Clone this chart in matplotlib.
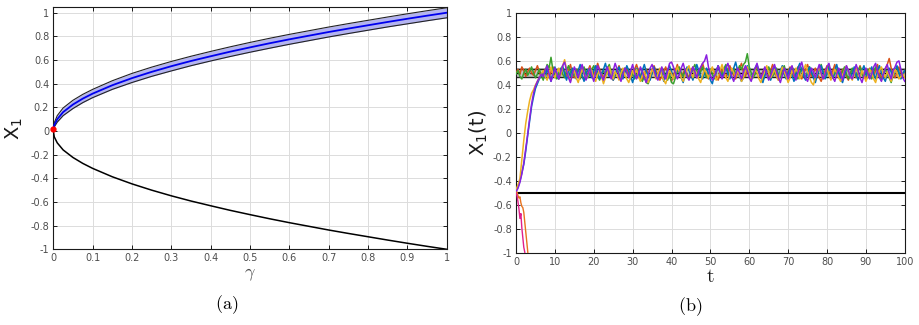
import numpy as np
import matplotlib
matplotlib.use("Agg")
import matplotlib.pyplot as plt

# ---------------- data: panel (a) ----------------
gamma = [0, 0.0025, 0.01, 0.025, 0.05, 0.075, 0.1, 0.15, 0.2, 0.25, 0.3, 0.35, 0.4,
         0.45, 0.5, 0.55, 0.6, 0.65, 0.7, 0.75, 0.8, 0.85, 0.9, 0.95, 1.0]
x1_center = [0.02, 0.05, 0.1, 0.16, 0.224, 0.274, 0.316, 0.387, 0.447, 0.5, 0.548, 0.592,
             0.632, 0.671, 0.707, 0.742, 0.775, 0.806, 0.837, 0.866, 0.894, 0.922, 0.949,
             0.975, 1.0]
x1_upper = [0.02, 0.07, 0.13, 0.195, 0.26, 0.31, 0.352, 0.425, 0.487, 0.54, 0.588, 0.632,
            0.673, 0.712, 0.749, 0.784, 0.817, 0.848, 0.879, 0.908, 0.936, 0.964, 0.991,
            1.017, 1.042]
x1_lower = [0.02, 0.035, 0.075, 0.13, 0.19, 0.24, 0.282, 0.352, 0.41, 0.462, 0.508, 0.552,
            0.592, 0.63, 0.666, 0.7, 0.733, 0.764, 0.795, 0.824, 0.852, 0.88, 0.906, 0.932,
            0.957]
x1_unstable = [0.0, -0.05, -0.1, -0.16, -0.224, -0.274, -0.316, -0.387, -0.447, -0.5, -0.548,
               -0.592, -0.632, -0.671, -0.707, -0.742, -0.775, -0.806, -0.837, -0.866,
               -0.894, -0.922, -0.949, -0.975, -1.0]
bif_point = (0.0, 0.02)

xticks_a = [0, 0.1, 0.2, 0.3, 0.4, 0.5, 0.6, 0.7, 0.8, 0.9, 1]
xticklabels_a = ["0", "0.1", "0.2", "0.3", "0.4", "0.5", "0.6", "0.7", "0.8", "0.9", "1"]
yticks = [-1, -0.8, -0.6, -0.4, -0.2, 0, 0.2, 0.4, 0.6, 0.8, 1]
yticklabels = ["-1", "-0.8", "-0.6", "-0.4", "-0.2", "0", "0.2", "0.4", "0.6", "0.8", "1"]

# ---------------- data: panel (b) ----------------
t_step = 0.5
stable_level = 0.5
stable_band = (0.465, 0.535)
stable_shade = (0.455, 0.545)
unstable_level = -0.5

traj_blue = [-.48,-.45,-.40,-.33,-.26,-.15,-.02,.10,.22,.30,.37,.41,.45,.48,
    .51,.46,.53,.49,.43,.50,.55,.48,.45,.52,
    .56,.49,.44,.51,.47,.54,.50,.45,.52,.57,
    .48,.43,.50,.53,.49,.46,.52,.56,.50,.45,
    .49,.53,.58,.51,.47,.50,.44,.48,.52,.55,
    .49,.45,.51,.56,.52,.47,.42,.48,.54,.50,
    .45,.52,.57,.51,.48,.44,.50,.55,.49,.46,
    .53,.50,.43,.48,.52,.56,.51,.45,.49,.54,
    .50,.46,.42,.49,.55,.52,.48,.44,.51,.57,
    .52,.47,.45,.50,.54,.49,.44,.41,.48,.52,
    .56,.50,.46,.51,.55,.49,.45,.50,.54,.59,
    .52,.47,.43,.46,.51,.56,.50,.45,.49,.54,
    .57,.51,.46,.42,.48,.52,.50,.44,.49,.55,
    .51,.46,.52,.56,.49,.45,.50,.54,.48,.43,
    .49,.54,.58,.52,.47,.44,.50,.55,.51,.46,
    .42,.48,.53,.56,.50,.45,.49,.54,.51,.46,
    .52,.57,.50,.45,.42,.48,.54,.51,.46,.50,
    .55,.49,.44,.48,.52,.56,.50,.46,.51,.55,
    .49,.45,.52,.56,.50,.46,.43,.49,.54,.51,
    .47,.52,.56,.50,.45,.49,.52]

traj_orange = [.50,.53,.49,.55,.52,.47,.51,.54,.50,.48,
    .52,.56,.51,.47,.50,.53,.49,.46,.51,.55,
    .52,.48,.45,.50,.54,.51,.47,.52,.57,.50,
    .46,.49,.53,.50,.47,.44,.49,.52,.56,.51,
    .48,.52,.58,.53,.49,.46,.50,.54,.51,.47,
    .44,.48,.52,.56,.50,.47,.51,.55,.49,.45,
    .50,.53,.57,.52,.48,.45,.49,.53,.50,.46,
    .51,.56,.52,.48,.44,.47,.51,.55,.50,.47,
    .43,.48,.52,.57,.51,.47,.50,.53,.49,.46,
    .52,.55,.50,.46,.49,.53,.58,.52,.48,.45,
    .50,.54,.51,.47,.44,.49,.53,.50,.46,.51,
    .56,.52,.48,.45,.50,.54,.58,.51,.47,.52,
    .49,.45,.48,.52,.56,.50,.46,.51,.54,.49,
    .47,.52,.57,.51,.47,.44,.49,.53,.50,.46,
    .52,.55,.50,.47,.51,.55,.48,.45,.50,.53,
    .57,.51,.47,.50,.54,.49,.46,.43,.48,.52,
    .56,.51,.48,.52,.57,.50,.46,.49,.53,.51,
    .47,.44,.49,.53,.50,.46,.52,.56,.51,.48,
    .45,.50,.54,.51,.47,.52,.57,.50,.46,.49,
    .53,.57,.62,.54,.49,.46,.51,.55,.50,.47,
    .52]

traj_yellow = [-.47,-.43,-.38,-.22,-.06,.08,.18,.27,.33,.36,.40,.43,.46,.49,
    .52,.47,.44,.50,.55,.49,.46,.51,.54,.48,
    .56,.61,.53,.47,.43,.49,.52,.46,.42,.48,
    .53,.50,.45,.48,.54,.51,.46,.43,.49,.52,
    .47,.41,.46,.50,.55,.49,.45,.51,.48,.44,
    .50,.54,.48,.45,.42,.47,.52,.49,.53,.47,
    .43,.48,.51,.46,.42,.47,.53,.50,.45,.49,
    .54,.48,.44,.41,.47,.52,.49,.45,.50,.55,
    .51,.46,.43,.48,.53,.56,.50,.46,.52,.49,
    .45,.42,.48,.53,.50,.46,.51,.55,.49,.44,
    .47,.52,.57,.51,.46,.43,.49,.54,.50,.47,
    .52,.48,.43,.46,.51,.55,.49,.44,.48,.53,
    .50,.45,.42,.47,.52,.56,.50,.46,.49,.53,
    .48,.44,.50,.55,.51,.47,.42,.46,.52,.49,
    .54,.50,.45,.48,.53,.57,.51,.46,.42,.40,
    .46,.51,.55,.49,.45,.50,.54,.48,.44,.49,
    .53,.50,.46,.43,.48,.52,.56,.51,.47,.44,
    .49,.54,.50,.46,.52,.48,.43,.47,.53,.50,
    .45,.42,.48,.52,.55,.49,.46,.51,.47,.43,
    .48,.53,.50,.45,.47,.49,.46]

traj_green = [.49,.52,.47,.45,.50,.53,.48,.51,.55,.50,
    .46,.49,.53,.48,.44,.51,.57,.54,.63,.52,
    .48,.45,.50,.54,.49,.46,.52,.56,.51,.47,
    .50,.53,.48,.45,.51,.55,.50,.46,.49,.53,
    .56,.51,.47,.44,.49,.52,.48,.54,.57,.50,
    .46,.50,.53,.49,.45,.51,.54,.50,.47,.52,
    .49,.45,.48,.52,.46,.43,.47,.42,.41,.46,
    .50,.53,.48,.45,.50,.54,.51,.47,.44,.49,
    .42,.41,.46,.51,.55,.50,.47,.52,.48,.45,
    .49,.53,.57,.52,.48,.51,.55,.50,.46,.49,
    .53,.49,.45,.50,.56,.52,.48,.54,.57,.51,
    .47,.50,.54,.49,.52,.56,.53,.57,.59,.66,
    .55,.50,.46,.49,.53,.51,.47,.44,.48,.52,
    .55,.51,.47,.50,.54,.49,.46,.52,.56,.50,
    .47,.51,.55,.52,.48,.45,.50,.54,.49,.46,
    .51,.55,.50,.47,.44,.49,.53,.57,.51,.48,
    .52,.56,.50,.46,.49,.53,.50,.47,.51,.55,
    .49,.45,.50,.54,.51,.47,.52,.55,.49,.46,
    .50,.53,.48,.45,.51,.55,.52,.47,.44,.49,
    .53,.50,.46,.42,.48,.52,.55,.50,.46,.49,
    .52]

traj_purple = [-.49,-.46,-.41,-.34,-.25,-.13,-.01,.12,.24,.33,.39,.43,.46,.49,
    .47,.52,.56,.49,.43,.48,.54,.50,.45,.51,
    .56,.59,.52,.46,.42,.49,.55,.51,.46,.52,
    .57,.50,.44,.49,.54,.48,.43,.50,.56,.52,
    .47,.44,.51,.55,.49,.45,.52,.58,.53,.47,
    .43,.49,.54,.51,.46,.52,.57,.50,.45,.49,
    .55,.51,.46,.42,.48,.54,.57,.52,.47,.44,
    .50,.55,.49,.45,.52,.58,.59,.55,.50,.45,
    .49,.54,.58,.52,.47,.44,.50,.55,.51,.46,
    .52,.55,.58,.60,.65,.55,.48,.44,.47,.51,
    .56,.50,.45,.49,.54,.58,.52,.47,.43,.49,
    .54,.50,.45,.51,.56,.52,.46,.43,.49,.54,
    .58,.51,.46,.50,.55,.49,.44,.48,.53,.57,
    .51,.46,.42,.48,.54,.50,.45,.52,.56,.49,
    .44,.50,.55,.59,.52,.46,.43,.49,.54,.51,
    .46,.52,.57,.50,.45,.49,.55,.58,.51,.46,
    .43,.49,.54,.50,.44,.51,.56,.52,.47,.45,
    .51,.57,.52,.46,.42,.48,.54,.50,.45,.49,
    .55,.58,.51,.46,.43,.49,.54,.57,.50,.45,
    .52,.55,.59,.60,.53,.46,.43]

desc_step = 0.25
traj_magenta = [-.50,-.52,-.57,-.63,-.71,-.67,-.79,-.87,-.95,-.99,-1.08,-1.2]
traj_orange_desc = [-.50,-.49,-.52,-.54,-.53,-.58,-.61,-.62,-.66,-.74,-.82,-.90,-.98,-1.08,-1.2]

xticks_b = [0, 10, 20, 30, 40, 50, 60, 70, 80, 90, 100]

# ---------------- styling ----------------
tick_color = "#4d4d4d"
grid_color = "#dcdcdc"

fig = plt.figure(figsize=(9.19, 3.25), dpi=100)
ax1 = fig.add_axes([0.058, 0.233, 0.428, 0.746])
ax2 = fig.add_axes([0.5615, 0.2206, 0.423, 0.740])


def style_axes(ax):
    ax.grid(True, color=grid_color, linewidth=0.7)
    ax.set_axisbelow(True)
    for s in ax.spines.values():
        s.set_color("#1a1a1a")
        s.set_linewidth(0.8)
    ax.tick_params(direction="in", length=3, width=0.7, top=True, right=True,
                   labelsize=7, labelcolor=tick_color, color="#1a1a1a", pad=3)


# panel (a)
g = np.array(gamma)
ax1.fill_between(g, x1_lower, x1_upper, color="#b4b4f0", linewidth=0, zorder=2)
ax1.plot(g, x1_upper, color="#222222", lw=0.8, zorder=3)
ax1.plot(g, x1_lower, color="#222222", lw=0.8, zorder=3)
ax1.plot(g, x1_center, color="#0000ee", lw=1.3, zorder=4)
ax1.plot(g, x1_unstable, color="black", lw=1.1, zorder=3)
ax1.plot([bif_point[0]], [bif_point[1]], "o", color="red", ms=3.5, zorder=5, clip_on=False)
ax1.set_xlim(0, 1)
ax1.set_ylim(-1, 1.05)
ax1.set_xticks(xticks_a)
ax1.set_xticklabels(xticklabels_a)
ax1.set_yticks(yticks)
ax1.set_yticklabels(yticklabels)
style_axes(ax1)
ax1.set_xlabel(r"$\gamma$", fontsize=13, color="#4d4d4d", math_fontfamily="cm", labelpad=1)
ax1.set_ylabel(r"X$_1$", fontsize=14, color="#1a1a1a", labelpad=4)

# panel (b)
ax2.fill_between([0, 100], [stable_shade[0]] * 2, [stable_shade[1]] * 2,
                 color="#a0a0a0", alpha=0.6, linewidth=0, zorder=1.5)
for lvl in stable_band:
    ax2.axhline(lvl, color="#222222", lw=1.0, zorder=2)
ax2.axhline(stable_level, color="black", lw=1.0, ls=(0, (3, 2)), zorder=2)
ax2.axhline(unstable_level, color="black", lw=1.5, zorder=2)

series = [
    (traj_orange, "#D95319"),
    (traj_green, "#3aa02e"),
    (traj_blue, "#0072BD"),
    (traj_yellow, "#EDB120"),
    (traj_purple, "#8a1fe0"),
]
for vals, col in series:
    tt = np.arange(len(vals)) * t_step
    ax2.plot(tt, vals, color=col, lw=1.1, zorder=3)

for vals, col in [(traj_orange_desc, "#E8731F"), (traj_magenta, "#e0208c")]:
    tt = np.arange(len(vals)) * desc_step
    ax2.plot(tt, vals, color=col, lw=1.0, zorder=3)

ax2.set_xlim(0, 100)
ax2.set_ylim(-1, 1)
ax2.set_xticks(xticks_b)
ax2.set_yticks(yticks)
ax2.set_yticklabels(yticklabels)
style_axes(ax2)
ax2.set_xlabel(r"$\mathrm{t}$", fontsize=14, color="#1a1a1a", math_fontfamily="cm", labelpad=0)
ax2.set_ylabel(r"X$_1$(t)", fontsize=14, color="#1a1a1a", labelpad=2)

# captions
fig.text(0.247, 0.062, r"$\mathrm{(a)}$", fontsize=13, ha="center", va="center",
         math_fontfamily="cm")
fig.text(0.751, 0.055, r"$\mathrm{(b)}$", fontsize=13, ha="center", va="center",
         math_fontfamily="cm")

fig.savefig("out.png", dpi=100)
